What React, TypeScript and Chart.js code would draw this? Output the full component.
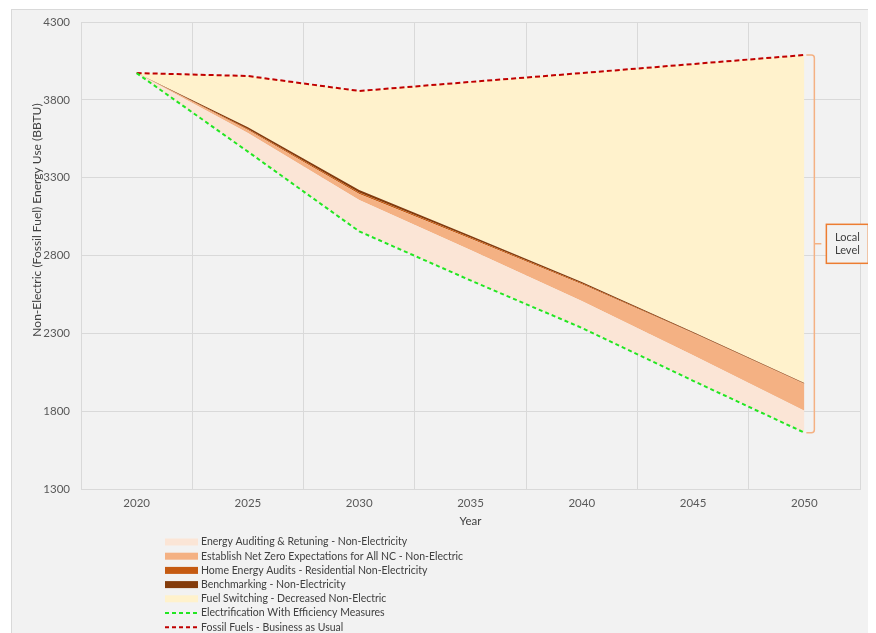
import { useEffect, useRef } from 'react';
import { Chart, registerables } from 'chart.js';

Chart.register(...registerables);

// ---------- data ----------
const years = ['2020', '2025', '2030', '2035', '2040', '2045', '2050'];
const electrification = [3972, 3467, 2955, 2640, 2335, 1995, 1662];
const energyAuditing = [0, 120, 202, 195, 173, 165, 141];
const netZeroExpectations = [0, 19, 38, 72, 107, 140, 172];
const homeEnergyAudits = [0, 6, 10, 8, 6, 4, 3];
const benchmarking = [0, 12, 16, 12, 8, 5, 3];
const fuelSwitching = [0, 329, 636, 988, 1343, 1721, 2107];
const businessAsUsual = [3972, 3953, 3857, 3915, 3972, 4030, 4088];
const yTicks = [1300, 1800, 2300, 2800, 3300, 3800, 4300];

const labels = {
  ea: 'Energy Auditing & Retuning - Non-Electricity',
  nz: 'Establish Net Zero Expectations for All NC - Non-Electric',
  hea: 'Home Energy Audits - Residential Non-Electricity',
  bm: 'Benchmarking - Non-Electricity',
  fs: 'Fuel Switching - Decreased Non-Electric',
  el: 'Electrification With Efficiency Measures',
  bau: 'Fossil Fuels - Business as Usual',
};
const yTitle = 'Non-Electric (Fossil Fuel) Energy Use (BBTU)';
const xTitle = 'Year';
const annotationLines = ['Local', 'Level'];

const colors = {
  ea: '#FBE5D6',
  nz: '#F4B183',
  hea: '#C55A11',
  bm: '#843C0C',
  fs: '#FFF2CC',
  el: '#22E622',
  bau: '#C00000',
};

const cumulative = (base: number[], ...parts: number[][]) =>
  base.map((v, i) => v + parts.reduce((s, p) => s + p[i], 0));

const FONT = 'Lato, "Open Sans", sans-serif';

const overlayPlugin = {
  id: 'overlay',
  afterDraw(chart: any) {
    const ctx: CanvasRenderingContext2D = chart.ctx;
    const xs = chart.scales.x;
    const ys = chart.scales.y;

    // y axis title
    ctx.save();
    ctx.translate(25, 210);
    ctx.rotate(-Math.PI / 2);
    ctx.font = `12px ${FONT}`;
    ctx.fillStyle = '#404040';
    ctx.textAlign = 'center';
    ctx.textBaseline = 'middle';
    ctx.fillText(yTitle, 0, 0);
    ctx.restore();

    // bracket annotation
    const last = years.length - 1;
    const px = xs.getPixelForValue(last);
    const top = ys.getPixelForValue(businessAsUsual[last]);
    const bot = ys.getPixelForValue(electrification[last]);
    const bx = px + 10;
    const r = 3;
    ctx.save();
    ctx.strokeStyle = '#F4B183';
    ctx.lineWidth = 1.5;
    ctx.beginPath();
    ctx.moveTo(px + 2, top);
    ctx.lineTo(bx - r, top);
    ctx.quadraticCurveTo(bx, top, bx, top + r);
    ctx.lineTo(bx, bot - r);
    ctx.quadraticCurveTo(bx, bot, bx - r, bot);
    ctx.lineTo(px + 2, bot);
    const mid = (top + bot) / 2;
    ctx.moveTo(bx, mid);
    ctx.lineTo(bx + 7, mid);
    ctx.stroke();

    const boxX = bx + 12;
    const boxW = 42;
    const boxH = 39;
    const boxY = mid - boxH / 2;
    ctx.fillStyle = '#F2F2F2';
    ctx.fillRect(boxX, boxY, boxW, boxH);
    ctx.strokeStyle = '#ED7D31';
    ctx.lineWidth = 1.5;
    ctx.strokeRect(boxX, boxY, boxW, boxH);
    ctx.fillStyle = '#404040';
    ctx.font = `11px ${FONT}`;
    ctx.textAlign = 'center';
    ctx.textBaseline = 'middle';
    ctx.fillText(annotationLines[0], boxX + boxW / 2, mid - 6.5);
    ctx.fillText(annotationLines[1], boxX + boxW / 2, mid + 6.5);
    ctx.restore();

    // legend
    const items = [
      { text: labels.ea, color: colors.ea, dash: false },
      { text: labels.nz, color: colors.nz, dash: false },
      { text: labels.hea, color: colors.hea, dash: false },
      { text: labels.bm, color: colors.bm, dash: false },
      { text: labels.fs, color: colors.fs, dash: false },
      { text: labels.el, color: colors.el, dash: true },
      { text: labels.bau, color: colors.bau, dash: true },
    ];
    const lx = 153;
    const lw = 33;
    const startY = 532;
    const step = 14.2;
    ctx.save();
    ctx.font = `10.5px ${FONT}`;
    ctx.textAlign = 'left';
    ctx.textBaseline = 'middle';
    items.forEach((it, i) => {
      const cy = startY + i * step;
      if (it.dash) {
        ctx.strokeStyle = it.color;
        ctx.lineWidth = 2;
        ctx.setLineDash([4, 3]);
        ctx.beginPath();
        ctx.moveTo(lx, cy);
        ctx.lineTo(lx + lw, cy);
        ctx.stroke();
        ctx.setLineDash([]);
      } else {
        ctx.fillStyle = it.color;
        ctx.fillRect(lx, cy - 3.5, lw, 7);
      }
      ctx.fillStyle = '#404040';
      ctx.fillText(it.text, lx + lw + 3, cy);
    });
    ctx.restore();
  },
};

export default function App() {
  const ref = useRef<HTMLCanvasElement | null>(null);

  useEffect(() => {
    document.documentElement.style.overflow = 'hidden';
    document.body.style.overflow = 'hidden';
    if (!ref.current) return;

    const eaTop = cumulative(electrification, energyAuditing);
    const nzTop = cumulative(electrification, energyAuditing, netZeroExpectations);
    const heaTop = cumulative(electrification, energyAuditing, netZeroExpectations, homeEnergyAudits);
    const bmTop = cumulative(electrification, energyAuditing, netZeroExpectations, homeEnergyAudits, benchmarking);
    const fsTop = cumulative(electrification, energyAuditing, netZeroExpectations, homeEnergyAudits, benchmarking, fuelSwitching);

    const area = (label: string, data: number[], color: string) => ({
      label,
      data,
      backgroundColor: color,
      borderColor: color,
      borderWidth: 0,
      pointRadius: 0,
      fill: '-1',
      tension: 0,
      order: 1,
    });

    const chart = new Chart(ref.current, {
      type: 'line',
      data: {
        labels: years,
        datasets: [
          {
            label: labels.el,
            data: electrification,
            borderColor: colors.el,
            borderWidth: 2,
            borderDash: [4, 3],
            pointRadius: 0,
            fill: false,
            tension: 0,
            order: 0,
          },
          area(labels.ea, eaTop, colors.ea),
          area(labels.nz, nzTop, colors.nz),
          area(labels.hea, heaTop, colors.hea),
          area(labels.bm, bmTop, colors.bm),
          area(labels.fs, fsTop, colors.fs),
          {
            label: labels.bau,
            data: businessAsUsual,
            borderColor: colors.bau,
            borderWidth: 2,
            borderDash: [5, 3],
            pointRadius: 0,
            fill: false,
            tension: 0,
            order: 0,
          },
        ] as any,
      },
      options: {
        animation: false,
        responsive: false,
        events: [],
        layout: { padding: { left: 0, right: 10, top: 12, bottom: 106 } },
        plugins: {
          legend: { display: false },
          tooltip: { enabled: false },
        },
        scales: {
          x: {
            type: 'category',
            offset: true,
            grid: { offset: true, color: '#D9D9D9', drawTicks: false },
            border: { color: '#D9D9D9' },
            ticks: { color: '#595959', font: { family: FONT, size: 11.5 }, padding: 7, maxRotation: 0 },
            title: {
              display: true,
              text: xTitle,
              color: '#404040',
              font: { family: FONT, size: 11.5 },
              padding: { top: 0, bottom: 6 },
            },
            afterFit: (s: any) => {
              s.height = 45;
            },
          },
          y: {
            min: 1300,
            max: 4300,
            grid: { color: '#D9D9D9', drawTicks: false },
            border: { color: '#D9D9D9' },
            ticks: {
              color: '#595959',
              font: { family: FONT, size: 11.5 },
              padding: 11,
              callback: (v: any) => String(v),
            },
            afterBuildTicks: (s: any) => {
              s.ticks = yTicks.map((v) => ({ value: v }));
            },
            afterFit: (s: any) => {
              s.width = 69;
              s.paddingTop = 0;
              s.paddingBottom = 0;
            },
          },
        },
      } as any,
      plugins: [overlayPlugin],
    });
    return () => chart.destroy();
  }, []);

  return (
    <div
      style={{
        marginLeft: 3,
        marginTop: 1,
        width: 858,
        height: 630,
        border: '1px solid #D9D9D9',
        background: '#F2F2F2',
      }}
    >
      <canvas ref={ref} width={858} height={630} style={{ display: 'block' }} />
    </div>
  );
}
